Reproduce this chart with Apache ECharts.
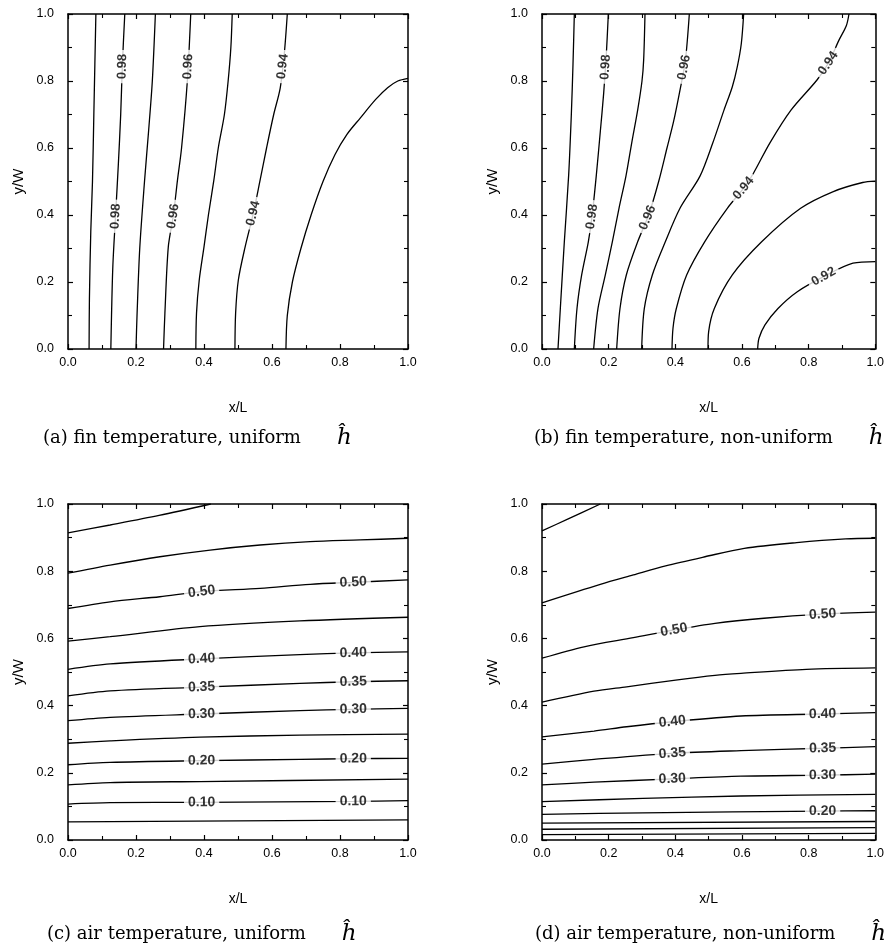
<!DOCTYPE html>
<html>
<head>
<meta charset="utf-8">
<script src="https://cdn.jsdelivr.net/npm/echarts@6/dist/echarts.min.js"></script>
<style>
  html, body { margin: 0; padding: 0; background: #fff; }
  #chart { width: 887px; height: 950px; }
</style>
</head>
<body>
<div id="chart"></div>
<script>
// contour lines, points are [x/L, y/W]
// labels are [level, x/L, y/W]

// (a) fin temperature, uniform h
var finUniformLevels = [0.99, 0.98, 0.97, 0.96, 0.95, 0.94, 0.93];
var finUniformLines = [
  [[0.062, 0], [0.063, 0.15], [0.067, 0.35], [0.072, 0.5], [0.076, 0.7], [0.079, 0.85], [0.082, 1.0]],
  [[0.126, 0], [0.128, 0.1], [0.132, 0.25], [0.140, 0.4], [0.148, 0.55], [0.155, 0.7], [0.160, 0.85], [0.167, 1.0]],
  [[0.200, 0], [0.203, 0.1], [0.211, 0.3], [0.225, 0.5], [0.237, 0.65], [0.248, 0.8], [0.257, 1.0]],
  [[0.281, 0], [0.285, 0.107], [0.295, 0.305], [0.310, 0.4], [0.322, 0.504], [0.334, 0.6], [0.351, 0.8], [0.361, 1.0]],
  [[0.376, 0], [0.378, 0.107], [0.386, 0.206], [0.400, 0.305], [0.413, 0.4], [0.429, 0.504], [0.442, 0.6], [0.460, 0.7], [0.471, 0.8], [0.479, 0.9], [0.483, 1.0]],
  [[0.491, 0], [0.493, 0.107], [0.501, 0.206], [0.521, 0.305], [0.545, 0.405], [0.565, 0.504], [0.584, 0.6], [0.605, 0.7], [0.624, 0.778], [0.636, 0.88], [0.645, 1.0]],
  [[0.641, 0], [0.645, 0.1], [0.660, 0.2], [0.685, 0.3], [0.715, 0.4], [0.750, 0.5], [0.785, 0.58], [0.820, 0.64], [0.860, 0.69], [0.905, 0.745], [0.940, 0.78], [0.970, 0.8], [1.0, 0.808]]
];
var finUniformLabels = [
  [0.98, 0.161, 0.843], [0.98, 0.140, 0.396],
  [0.96, 0.354, 0.843], [0.96, 0.310, 0.396],
  [0.94, 0.632, 0.843], [0.94, 0.545, 0.405]
];

// (b) fin temperature, non-uniform h
var finNonUniformLevels = [0.99, 0.98, 0.97, 0.96, 0.95, 0.94, 0.93, 0.92];
var finNonUniformLines = [
  [[0.048, 0], [0.055, 0.121], [0.067, 0.32], [0.080, 0.519], [0.088, 0.7], [0.093, 0.85], [0.097, 1.0]],
  [[0.097, 0], [0.105, 0.121], [0.119, 0.221], [0.139, 0.32], [0.150, 0.395], [0.163, 0.519], [0.175, 0.65], [0.185, 0.763], [0.193, 0.88], [0.199, 1.0]],
  [[0.155, 0], [0.168, 0.121], [0.190, 0.221], [0.211, 0.32], [0.231, 0.42], [0.252, 0.517], [0.270, 0.62], [0.287, 0.713], [0.300, 0.8], [0.305, 0.863], [0.309, 1.0]],
  [[0.224, 0], [0.234, 0.121], [0.253, 0.221], [0.287, 0.32], [0.320, 0.4], [0.350, 0.5], [0.375, 0.6], [0.395, 0.68], [0.414, 0.773], [0.430, 0.86], [0.442, 1.0]],
  [[0.299, 0], [0.307, 0.121], [0.331, 0.221], [0.370, 0.32], [0.414, 0.42], [0.474, 0.516], [0.512, 0.614], [0.546, 0.713], [0.571, 0.783], [0.586, 0.843], [0.598, 0.912], [0.605, 1.0]],
  [[0.390, 0], [0.393, 0.062], [0.403, 0.121], [0.434, 0.221], [0.488, 0.32], [0.556, 0.42], [0.605, 0.48], [0.634, 0.524], [0.683, 0.614], [0.747, 0.713], [0.825, 0.803], [0.859, 0.853], [0.891, 0.922], [0.913, 0.965], [0.921, 1.0]],
  [[0.498, 0], [0.500, 0.052], [0.517, 0.121], [0.571, 0.221], [0.659, 0.32], [0.776, 0.42], [0.874, 0.47], [0.962, 0.497], [1.0, 0.501]],
  [[0.647, 0], [0.651, 0.032], [0.669, 0.072], [0.708, 0.121], [0.766, 0.171], [0.845, 0.216], [0.933, 0.256], [1.0, 0.261]]
];
var finNonUniformLabels = [
  [0.98, 0.195, 0.841], [0.98, 0.150, 0.395],
  [0.96, 0.424, 0.841], [0.96, 0.322, 0.390],
  [0.94, 0.859, 0.853], [0.94, 0.605, 0.480],
  [0.92, 0.845, 0.216]
];

// (c) air temperature, uniform h
var airUniformLevels = [0.60, 0.55, 0.50, 0.45, 0.40, 0.35, 0.30, 0.25, 0.20, 0.15, 0.10, 0.05];
var airUniformLines = [
  [[0, 0.914], [0.124, 0.9375], [0.268, 0.966], [0.420, 1.0]],
  [[0, 0.794], [0.124, 0.818], [0.270, 0.843], [0.418, 0.863], [0.565, 0.878], [0.712, 0.888], [0.859, 0.893], [1.0, 0.898]],
  [[0, 0.689], [0.124, 0.709], [0.270, 0.724], [0.393, 0.739], [0.565, 0.749], [0.712, 0.761], [0.839, 0.767], [1.0, 0.774]],
  [[0, 0.592], [0.124, 0.605], [0.388, 0.635], [0.682, 0.652], [1.0, 0.663]],
  [[0, 0.508], [0.124, 0.524], [0.393, 0.539], [0.682, 0.552], [0.839, 0.557], [1.0, 0.560]],
  [[0, 0.429], [0.124, 0.444], [0.393, 0.455], [0.682, 0.466], [0.839, 0.471], [1.0, 0.474]],
  [[0, 0.355], [0.124, 0.365], [0.393, 0.375], [0.682, 0.385], [0.839, 0.389], [1.0, 0.392]],
  [[0, 0.288], [0.124, 0.295], [0.388, 0.306], [0.682, 0.312], [1.0, 0.315]],
  [[0, 0.224], [0.124, 0.231], [0.393, 0.236], [0.682, 0.240], [0.839, 0.242], [1.0, 0.243]],
  [[0, 0.164], [0.124, 0.171], [0.388, 0.174], [1.0, 0.181]],
  [[0, 0.107], [0.124, 0.111], [0.393, 0.112], [0.839, 0.115], [1.0, 0.117]],
  [[0, 0.054], [1.0, 0.060]]
];
var airUniformLabels = [
  [0.50, 0.393, 0.739], [0.50, 0.839, 0.767],
  [0.40, 0.393, 0.539], [0.40, 0.839, 0.557],
  [0.35, 0.393, 0.455], [0.35, 0.839, 0.471],
  [0.30, 0.393, 0.375], [0.30, 0.839, 0.389],
  [0.20, 0.393, 0.236], [0.20, 0.839, 0.242],
  [0.10, 0.393, 0.112], [0.10, 0.839, 0.115]
];

// (d) air temperature, non-uniform h
var airNonUniformLevels = [0.60, 0.55, 0.50, 0.45, 0.40, 0.35, 0.30, 0.25, 0.20, 0.15, 0.10, 0.05];
var airNonUniformLines = [
  [[0, 0.920], [0.077, 0.955], [0.175, 1.0]],
  [[0, 0.706], [0.175, 0.761], [0.274, 0.789], [0.371, 0.816], [0.489, 0.843], [0.607, 0.868], [0.764, 0.885], [0.911, 0.896], [1.0, 0.898]],
  [[0, 0.541], [0.126, 0.575], [0.274, 0.602], [0.396, 0.625], [0.519, 0.645], [0.666, 0.660], [0.842, 0.672], [1.0, 0.678]],
  [[0, 0.410], [0.156, 0.443], [0.254, 0.456], [0.401, 0.476], [0.519, 0.490], [0.597, 0.496], [0.793, 0.508], [1.0, 0.512]],
  [[0, 0.307], [0.156, 0.324], [0.254, 0.337], [0.391, 0.352], [0.597, 0.369], [0.842, 0.375], [1.0, 0.379]],
  [[0, 0.226], [0.156, 0.240], [0.391, 0.258], [0.597, 0.266], [0.842, 0.273], [1.0, 0.278]],
  [[0, 0.164], [0.156, 0.172], [0.391, 0.182], [0.597, 0.190], [0.842, 0.193], [1.0, 0.196]],
  [[0, 0.114], [0.303, 0.124], [0.597, 0.131], [1.0, 0.136]],
  [[0, 0.076], [0.303, 0.081], [0.842, 0.086], [1.0, 0.087]],
  [[0, 0.050], [1.0, 0.055]],
  [[0, 0.032], [1.0, 0.037]],
  [[0, 0.016], [1.0, 0.020]]
];
var airNonUniformLabels = [
  [0.50, 0.396, 0.625], [0.50, 0.842, 0.672],
  [0.40, 0.391, 0.352], [0.40, 0.842, 0.375],
  [0.35, 0.391, 0.258], [0.35, 0.842, 0.273],
  [0.30, 0.391, 0.182], [0.30, 0.842, 0.193],
  [0.20, 0.842, 0.086]
];

var captions = [
  '(a) fin temperature, uniform',
  '(b) fin temperature, non-uniform',
  '(c) air temperature, uniform',
  '(d) air temperature, non-uniform'
];

var TICK_FONT = "'Liberation Sans', Arial, sans-serif";
var LABEL_FONT = "'Liberation Sans', Arial, sans-serif";
var CAPTION_FONT = "'DejaVu Serif', 'Liberation Serif', serif";

var panels = [
  { levels: finUniformLevels, lines: finUniformLines, labels: finUniformLabels, grid: { left: 68, top: 14, width: 340, height: 335 }, labelSize: 13 },
  { levels: finNonUniformLevels, lines: finNonUniformLines, labels: finNonUniformLabels, grid: { left: 542, top: 14, width: 341, height: 335 }, labelSize: 13 },
  { levels: airUniformLevels, lines: airUniformLines, labels: airUniformLabels, grid: { left: 68, top: 504, width: 340, height: 336 }, labelSize: 14 },
  { levels: airNonUniformLevels, lines: airNonUniformLines, labels: airNonUniformLabels, grid: { left: 542, top: 504, width: 341, height: 336 }, labelSize: 14 }
];
var captionPos = [[38, 422], [529, 422], [42, 918], [530, 918]];

// put a label onto its contour and turn it along the line
function placeLabel(line, x, y, w, h) {
  var best = null;
  for (var k = 0; k < line.length - 1; k++) {
    var ax = line[k][0] * w, ay = line[k][1] * h;
    var bx = line[k + 1][0] * w, by = line[k + 1][1] * h;
    var px = x * w, py = y * h;
    var dx = bx - ax, dy = by - ay, len2 = dx * dx + dy * dy;
    var t = len2 ? ((px - ax) * dx + (py - ay) * dy) / len2 : 0;
    t = Math.max(0, Math.min(1, t));
    var cx = ax + t * dx, cy = ay + t * dy;
    var d = (cx - px) * (cx - px) + (cy - py) * (cy - py);
    if (!best || d < best.d) {
      best = { d: d, x: cx / w, y: cy / h, ang: Math.atan2(dy, dx) * 180 / Math.PI };
    }
  }
  var a = best.ang;
  if (a > 90) a -= 180;
  if (a < -90) a += 180;
  return { x: best.x, y: best.y, rotate: a };
}

function axisBase(show) {
  return {
    type: 'value', min: 0, max: 1, interval: 0.2,
    axisLine: { show: true, onZero: false, lineStyle: { color: '#000', width: 1.5 } },
    axisTick: { show: true, inside: true, length: 5, lineStyle: { color: '#000', width: 1.2 } },
    minorTick: { show: true, splitNumber: 2, length: 4, lineStyle: { color: '#000', width: 1.1 } },
    splitLine: { show: false },
    axisLabel: {
      show: show, color: '#000', fontSize: 12.5, fontFamily: TICK_FONT,
      formatter: function (v) { return v.toFixed(1); }
    }
  };
}

var grids = [], xAxes = [], yAxes = [], series = [], titles = [];

panels.forEach(function (p, i) {
  grids.push(p.grid);

  var xb = axisBase(true);
  xb.gridIndex = i; xb.position = 'bottom';
  xb.axisLabel.margin = 7;
  xb.name = 'x/L'; xb.nameLocation = 'middle'; xb.nameGap = 52;
  xb.nameTextStyle = { color: '#000', fontSize: 14, fontFamily: TICK_FONT };
  var xt = axisBase(false);
  xt.gridIndex = i; xt.position = 'top';
  xAxes.push(xb, xt);

  var yl = axisBase(true);
  yl.gridIndex = i; yl.position = 'left';
  yl.axisLabel.margin = 14;
  yl.name = 'y/W'; yl.nameLocation = 'middle'; yl.nameGap = 42;
  yl.nameTextStyle = { color: '#000', fontSize: 15, fontFamily: TICK_FONT };
  var yr = axisBase(false);
  yr.gridIndex = i; yr.position = 'right';
  yAxes.push(yl, yr);

  p.lines.forEach(function (line) {
    series.push({
      type: 'line', xAxisIndex: 2 * i, yAxisIndex: 2 * i,
      data: line, symbol: 'none', smooth: 0.3, silent: true,
      lineStyle: { color: '#000', width: 1.3 },
      animation: false, z: 2
    });
  });

  var w = p.grid.width, h = p.grid.height;
  var labelData = p.labels.map(function (lb) {
    var idx = p.levels.indexOf(lb[0]);
    var pos = placeLabel(p.lines[idx], lb[1], lb[2], w, h);
    return {
      value: [pos.x, pos.y],
      name: lb[0].toFixed(2),
      label: { rotate: pos.rotate }
    };
  });
  series.push({
    type: 'scatter', xAxisIndex: 2 * i, yAxisIndex: 2 * i,
    data: labelData, symbolSize: 1, itemStyle: { color: 'rgba(0,0,0,0)' },
    silent: true, animation: false, z: 5,
    label: {
      show: true, position: 'inside', color: '#000',
      fontSize: p.labelSize, fontWeight: 'bold', fontFamily: LABEL_FONT,
      backgroundColor: '#fff', padding: [0, 4],
      formatter: function (d) { return d.name; }
    },
    labelLayout: { hideOverlap: false }
  });

  titles.push({
    text: '{t|' + captions[i] + '}{h|ĥ}',
    left: captionPos[i][0], top: captionPos[i][1],
    textStyle: {
      rich: {
        t: { fontFamily: CAPTION_FONT, fontSize: 18, fontWeight: 'normal', color: '#000' },
        h: { fontFamily: CAPTION_FONT, fontSize: 23, fontWeight: 'normal', fontStyle: 'italic', color: '#000', padding: [0, 0, 0, 36] }
      }
    }
  });
});

var chart = echarts.init(document.getElementById('chart'));
chart.setOption({
  backgroundColor: '#fff',
  animation: false,
  title: titles,
  grid: grids,
  xAxis: xAxes,
  yAxis: yAxes,
  series: series
});
</script>
</body>
</html>
